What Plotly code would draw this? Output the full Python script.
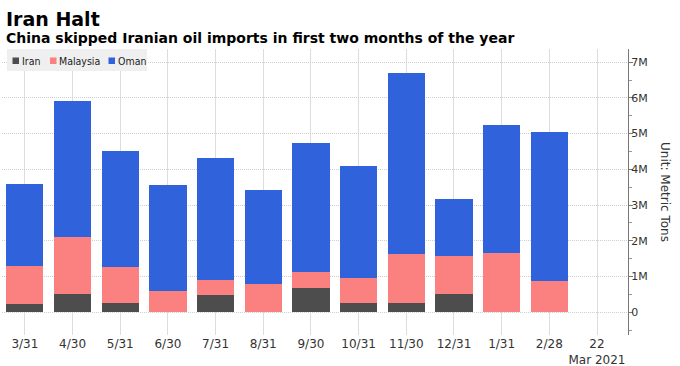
import plotly.graph_objects as go

categories = ["3/31", "4/30", "5/31", "6/30", "7/31", "8/31", "9/30",
              "10/31", "11/30", "12/31", "1/31", "2/28", "22<br>Mar 2021"]
# values in millions of metric tons (per series, stacked)
iran = [0.24, 0.51, 0.26, 0.0, 0.49, 0.0, 0.68, 0.26, 0.26, 0.51, 0.0, 0.0, None]
malaysia = [1.06, 1.60, 1.00, 0.58, 0.40, 0.80, 0.44, 0.71, 1.36, 1.05, 1.66, 0.88, None]
oman = [2.29, 3.81, 3.24, 2.97, 3.43, 2.61, 3.63, 3.11, 5.09, 1.62, 3.57, 4.17, None]

series_names = ["Iran", "Malaysia", "Oman"]
series_colors = ["#4d4d4d", "#fb8080", "#3062dc"]

ytick_vals = [0, 1, 2, 3, 4, 5, 6, 7]
ytick_text = ["0", "1M", "2M", "3M", "4M", "5M", "6M", "7M"]

FONT = "DejaVu Sans"
W, H = 680, 366
ML, MR, MT, MB = 2, 52, 49, 31
PW, PH = W - ML - MR, H - MT - MB


def px_x(px):
    return (px - ML) / PW


def px_y(py):
    return (H - MB - py) / PH


xs = list(range(len(categories)))


def scale(v):
    return [None if a is None else a * 1e6 for a in v]


fig = go.Figure()
for name, color, vals in zip(series_names, series_colors, [iran, malaysia, oman]):
    fig.add_trace(go.Bar(x=xs, y=scale(vals), name=name, marker_color=color,
                         marker_line_width=0, width=0.78))

# compact legend (box, swatches, labels)
shapes = [dict(type="rect", xref="paper", yref="paper",
               x0=px_x(7), x1=px_x(147), y0=px_y(71), y1=px_y(49),
               fillcolor="#efefef", line_width=0, layer="above")]
legend_swatch_x = [12.5, 50, 108.5]
legend_text_x = [21, 58, 117]
annotations = []
for name, color, sx, tx in zip(series_names, series_colors, legend_swatch_x, legend_text_x):
    shapes.append(dict(type="rect", xref="paper", yref="paper",
                       x0=px_x(sx), x1=px_x(sx + 6.5), y0=px_y(64), y1=px_y(57.5),
                       fillcolor=color, line_width=0, layer="above"))
    annotations.append(dict(text=name, xref="paper", yref="paper",
                            x=px_x(tx), y=px_y(60.5), xanchor="left", yanchor="middle",
                            showarrow=False, borderpad=0,
                            font=dict(family="DejaVu Sans Condensed, DejaVu Sans",
                                      size=10.5, color="#222222")))

annotations += [
    dict(text="<b>Iran Halt</b>", xref="paper", yref="paper",
         x=px_x(7), xshift=-3, y=1, yshift=43, xanchor="left", yanchor="top",
         showarrow=False, font=dict(family=FONT, size=19, color="#000000")),
    dict(text="<b>China skipped Iranian oil imports in first two months of the year</b>",
         xref="paper", yref="paper", x=px_x(7), xshift=-3, y=1, yshift=21,
         xanchor="left", yanchor="top", showarrow=False,
         font=dict(family=FONT, size=14, color="#000000")),
    dict(text="Unit: Metric Tons", xref="paper", yref="paper",
         x=1, xshift=37, y=0.5, xanchor="center", yanchor="middle",
         textangle=90, showarrow=False,
         font=dict(family=FONT, size=12, color="#333333")),
]

fig.update_layout(
    barmode="stack",
    width=W, height=H,
    margin=dict(l=ML, r=MR, t=MT, b=MB, autoexpand=False),
    paper_bgcolor="white", plot_bgcolor="white",
    font=dict(family=FONT, size=12, color="#333333"),
    showlegend=False,
    xaxis=dict(range=[-0.48, 12.65], tickvals=xs, ticktext=categories,
               showgrid=True, gridcolor="#dddddd", gridwidth=1,
               showline=False, ticks="", zeroline=False, automargin=False,
               tickfont=dict(size=12, color="#333333")),
    yaxis=dict(side="right", range=[-0.64e6, 7.37e6],
               tickvals=[v * 1e6 for v in ytick_vals], ticktext=ytick_text,
               showgrid=True, gridcolor="#cfcfcf", griddash="1px,1px", gridwidth=1,
               zeroline=False, showline=True, linecolor="#777777", linewidth=1,
               ticks="outside", ticklen=4, tickcolor="#777777", automargin=False,
               ticklabelstandoff=-4,
               minor=dict(dtick=0.5e6, tick0=0, ticks="outside", ticklen=3,
                          tickcolor="#999999", showgrid=False),
               tickfont=dict(size=11, color="#333333")),
    shapes=shapes,
    annotations=annotations,
)

fig.write_html("out.html", config={"displayModeBar": False},
               post_script="document.body.style.margin='0';")
